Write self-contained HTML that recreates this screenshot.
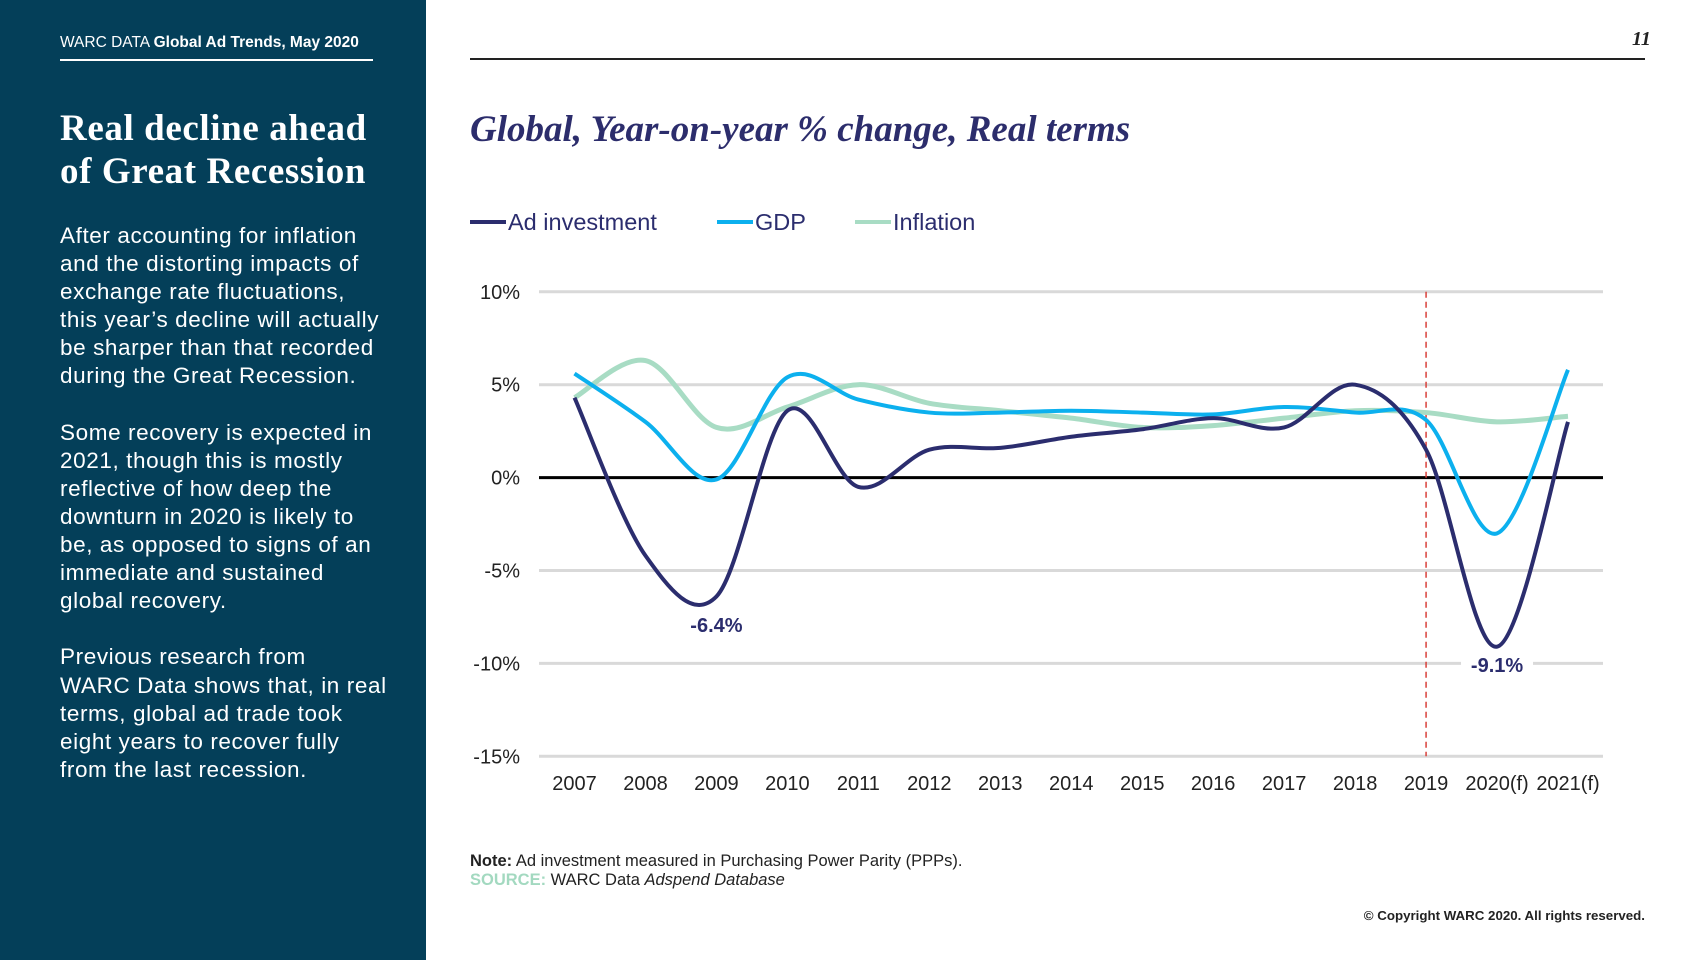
<!DOCTYPE html>
<html><head><meta charset="utf-8">
<style>
body{margin:0;width:1707px;height:960px;position:relative;background:#fff;font-family:"Liberation Sans",sans-serif;overflow:hidden}
.side{position:absolute;left:0;top:0;width:426px;height:960px;background:#043f59}
.abs{position:absolute;white-space:nowrap}
</style></head><body>
<div class="side">
  <div class="abs" style="left:60px;top:34px;font-size:15.5px;color:#fff">WARC DATA <b>Global Ad Trends, May 2020</b></div>
  <div class="abs" style="left:60px;top:59px;width:313px;height:1.5px;background:#fff"></div>
  <div class="abs" style="left:60px;top:107px;font-family:'Liberation Serif',serif;font-weight:bold;font-size:37px;line-height:43px;color:#fff;letter-spacing:0.6px">Real decline ahead<br>of Great Recession</div>
  <div class="abs" style="left:60px;top:222px;font-size:22.5px;line-height:28.1px;color:#fff;letter-spacing:0.6px">After accounting for inflation<br>and the distorting impacts of<br>exchange rate fluctuations,<br>this year’s decline will actually<br>be sharper than that recorded<br>during the Great Recession.<br><br>Some recovery is expected in<br>2021, though this is mostly<br>reflective of how deep the<br>downturn in 2020 is likely to<br>be, as opposed to signs of an<br>immediate and sustained<br>global recovery.<br><br>Previous research from<br>WARC Data shows that, in real<br>terms, global ad trade took<br>eight years to recover fully<br>from the last recession.</div>
</div>
<div class="abs" style="left:470px;top:58px;width:1175px;height:1.5px;background:#222"></div>
<div class="abs" style="left:1632px;top:28px;font-family:'Liberation Serif',serif;font-style:italic;font-weight:bold;font-size:20px;color:#222">11</div>
<div class="abs" style="left:470px;top:108px;font-family:'Liberation Serif',serif;font-style:italic;font-weight:bold;font-size:37px;color:#2c2d6c">Global, Year-on-year % change, Real terms</div>

<svg class="abs" style="left:0;top:0" width="1707" height="960" id="chart"></svg>

<div class="abs" style="left:470px;top:852px;font-size:16.5px;color:#222"><b>Note:</b> Ad investment measured in Purchasing Power Parity (PPPs).</div>
<div class="abs" style="left:470px;top:871px;font-size:16.5px;color:#222"><b style="color:#a3d9c0">SOURCE:</b> WARC Data <i>Adspend Database</i></div>
<div class="abs" style="right:62px;top:908px;font-size:13.3px;font-weight:bold;color:#222">© Copyright WARC 2020. All rights reserved.</div>

<script>
const categories=["2007","2008","2009","2010","2011","2012","2013","2014","2015","2016","2017","2018","2019","2020(f)","2021(f)"];
const adInvestment=[4.3,-4.2,-6.4,3.6,-0.5,1.5,1.6,2.2,2.6,3.2,2.7,5.0,1.5,-9.1,3.0];
const gdp=[5.6,3.0,-0.1,5.4,4.2,3.5,3.5,3.6,3.5,3.4,3.8,3.5,3.1,-3.0,5.8];
const inflation=[4.3,6.3,2.7,3.8,5.0,4.0,3.6,3.2,2.7,2.8,3.2,3.6,3.5,3.0,3.3];
const yTicks=[10,5,0,-5,-10,-15];
const yTickLabels=["10%","5%","0%","-5%","-10%","-15%"];
const seriesNames=["Ad investment","GDP","Inflation"];

const NS="http://www.w3.org/2000/svg";
const svg=document.getElementById('chart');
const x0=574.5,dx=(1568-574.5)/14;
const X=i=>x0+i*dx;
const Y=v=>477.6-v*18.58;
function mk(t,a,p){const e=document.createElementNS(NS,t);for(const k in a)e.setAttribute(k,a[k]);(p||svg).appendChild(e);return e;}
yTicks.forEach((v,i)=>{
  const g=mk('line',{x1:539,x2:1603,y1:Y(v),y2:Y(v),stroke:v===0?'#000':'#d9d9d9','stroke-width':3});
  
  
  const t=mk('text',{x:520,y:Y(v)+7,'text-anchor':'end','font-size':20,fill:'#222','font-family':'Liberation Sans, sans-serif'});
  t.textContent=yTickLabels[i];
  
  
});
const d=mk('line',{x1:X(12),x2:X(12),y1:Y(10),y2:Y(-15),stroke:'#d9403a','stroke-width':1.5,'stroke-dasharray':'6,4'});


categories.forEach((c,i)=>{
  const t=mk('text',{x:X(i),y:790,'text-anchor':'middle','font-size':20,fill:'#222','font-family':'Liberation Sans, sans-serif'});
  t.textContent=c;
  
  
});
function path(vals){
  const p=vals.map((v,i)=>[X(i),Y(v)]);
  let s=`M${p[0][0]},${p[0][1]}`;
  for(let i=0;i<p.length-1;i++){
    const a=p[i-1]||p[i],b=p[i],c=p[i+1],e=p[i+2]||c;
    s+=` C${b[0]+(c[0]-a[0])/6},${b[1]+(c[1]-a[1])/6} ${c[0]-(e[0]-b[0])/6},${c[1]-(e[1]-b[1])/6} ${c[0]},${c[1]}`;
  }
  return s;
}
const ser=[[inflation,'#a8dcc4',5,'inflation-line'],[gdp,'#0cb0ee',4,'gdp-line'],[adInvestment,'#2b2d6e',4,'ad-investment-line']];
ser.forEach(s=>{
  const p=mk('path',{d:path(s[0]),fill:'none',stroke:s[1],'stroke-width':s[2],'stroke-linejoin':'round'});
  
  
});
const lbls=[[2,'-6.4%',632,false],[13,'-9.1%',672,true]];
lbls.forEach(l=>{
  if(l[3]){const r=mk('rect',{x:X(l[0])-36,y:l[2]-19,width:72,height:26,fill:'#fff'});
    
    }
  const t=mk('text',{x:X(l[0]),y:l[2],'text-anchor':'middle','font-size':20,'font-weight':'bold',fill:'#2b2d6e','font-family':'Liberation Sans, sans-serif'});
  t.textContent=l[1];
  
  
});
const lx=[470,717,855],cols=['#2b2d6e','#0cb0ee','#a8dcc4'];
seriesNames.forEach((n,i)=>{
  const l=mk('line',{x1:lx[i],x2:lx[i]+36,y1:222,y2:222,stroke:cols[i],'stroke-width':4});
  
  
  const t=mk('text',{x:lx[i]+38,y:230,'font-size':23.5,fill:'#2b2d6e','font-family':'Liberation Sans, sans-serif'});
  t.textContent=n;
  
  
});
</script>
</body></html>
